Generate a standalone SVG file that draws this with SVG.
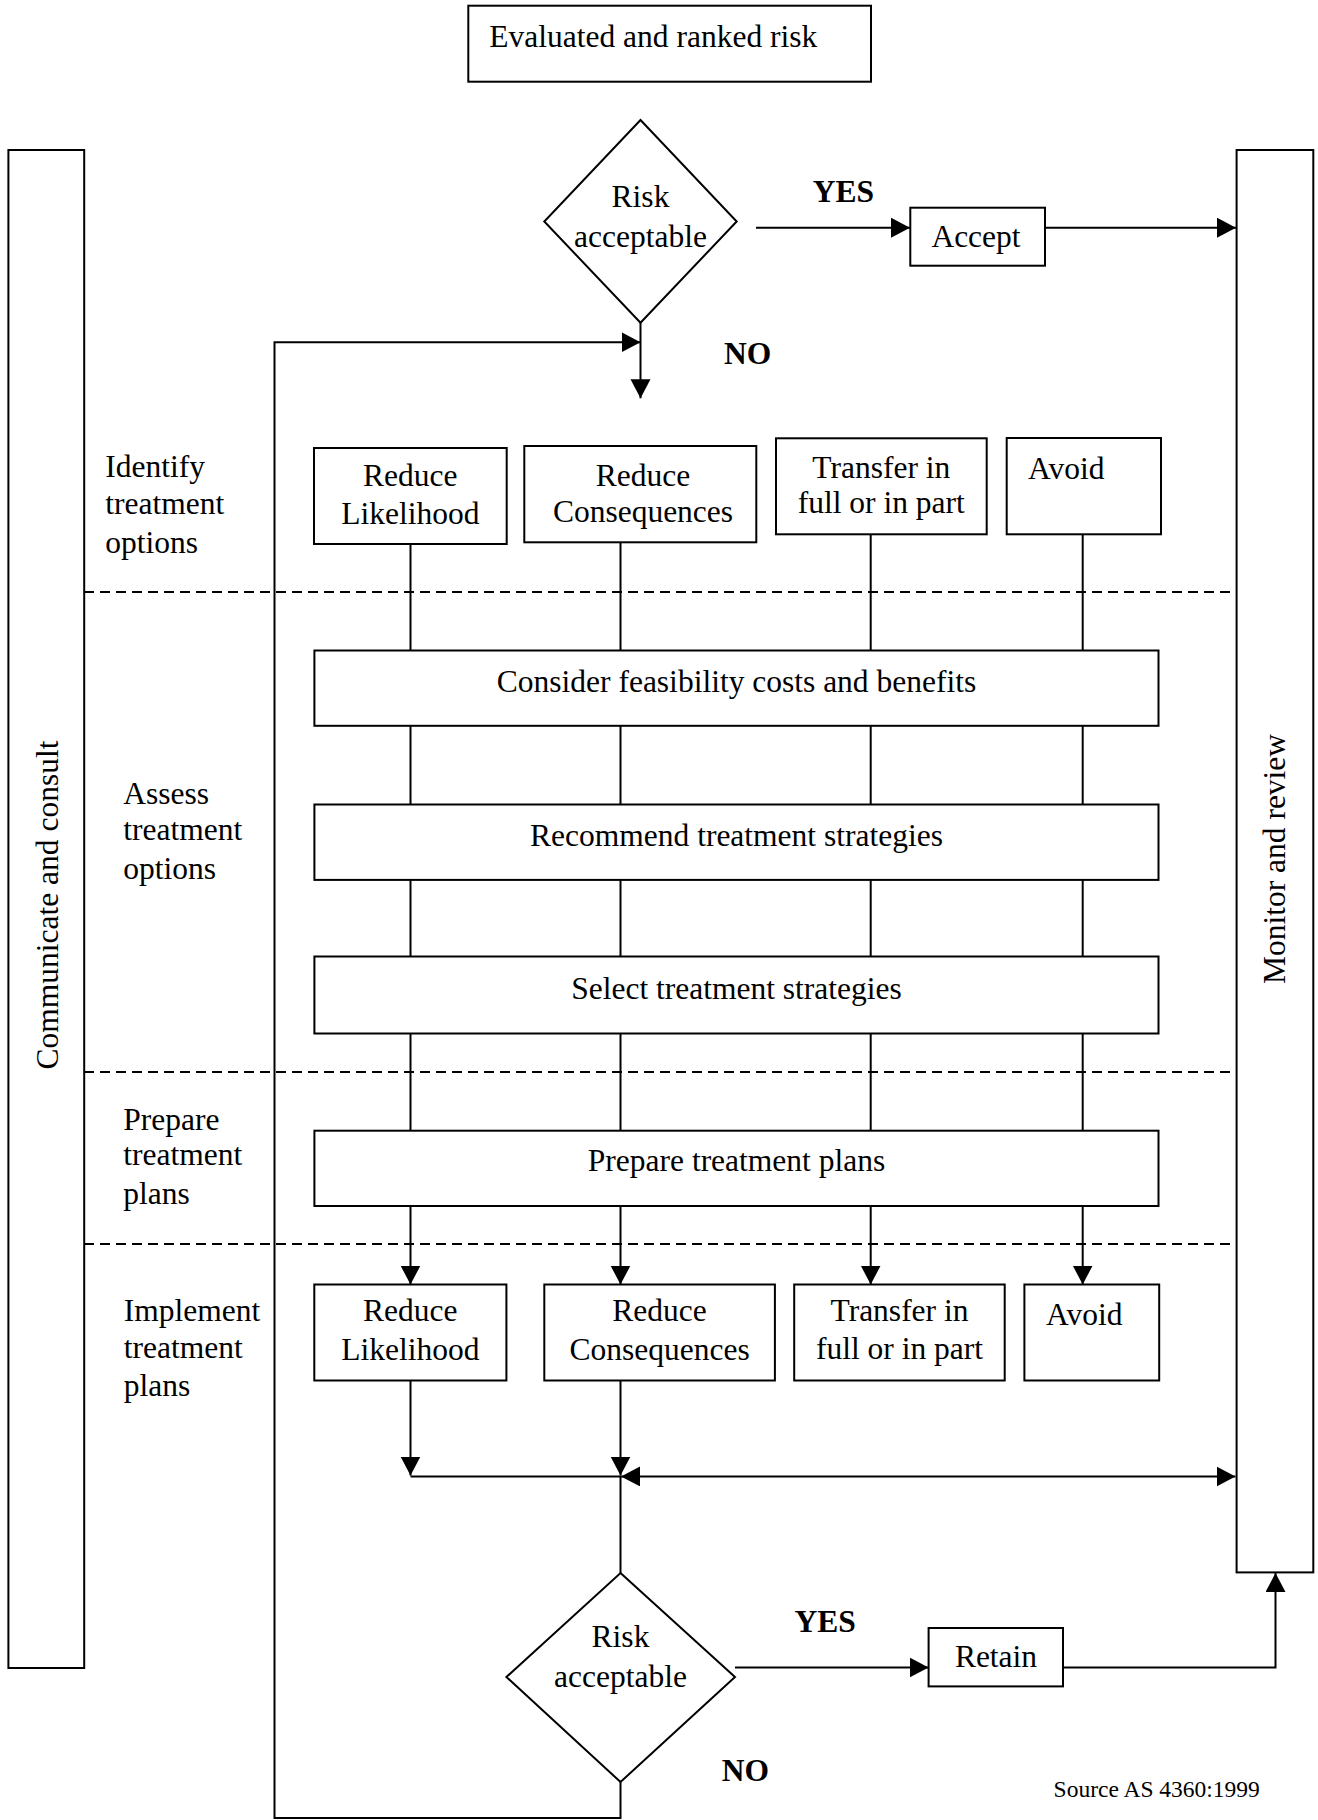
<svg xmlns="http://www.w3.org/2000/svg" width="1318" height="1820" viewBox="0 0 1318 1820">
<style>
.box{fill:#fff;stroke:#000;stroke-width:2}
.ln{fill:none;stroke:#000;stroke-width:2}
.dash{fill:none;stroke:#000;stroke-width:1.8;stroke-dasharray:10 6}
text{font-family:"Liberation Serif","Times New Roman",serif;font-size:31.5px;fill:#000}
.c{text-anchor:middle}
.b{font-weight:bold}
.src{font-size:23.5px}
</style>
<defs>
<marker id="ah" markerUnits="userSpaceOnUse" markerWidth="20" markerHeight="22" refX="19" refY="10" orient="auto-start-reverse" viewBox="0 0 20 22">
<path d="M0,0 L19,10 L0,20 z" fill="#000"/>
</marker>
</defs>
<rect width="1318" height="1820" fill="#fff"/>
<g id="dividers">
<line class="dash" x1="84" y1="592" x2="1236" y2="592"/>
<line class="dash" x1="84" y1="1072" x2="1236" y2="1072"/>
<line class="dash" x1="84" y1="1244" x2="1236" y2="1244"/>
</g>
<g id="connectors">
<line class="ln" x1="756" y1="227.7" x2="910" y2="227.7" marker-end="url(#ah)"/>
<line class="ln" x1="1045" y1="227.7" x2="1236" y2="227.7" marker-end="url(#ah)"/>
<line class="ln" x1="640.5" y1="322.7" x2="640.5" y2="398.3" marker-end="url(#ah)"/>
<path class="ln" d="M620.5,1782 V1818 H274.5 V342.3 H640.5" marker-end="url(#ah)"/>
<line class="ln" x1="410.5" y1="544" x2="410.5" y2="1284.5" marker-end="url(#ah)"/>
<line class="ln" x1="620.5" y1="542" x2="620.5" y2="1284.5" marker-end="url(#ah)"/>
<line class="ln" x1="870.7" y1="534" x2="870.7" y2="1284.5" marker-end="url(#ah)"/>
<line class="ln" x1="1082.7" y1="534" x2="1082.7" y2="1284.5" marker-end="url(#ah)"/>
<line class="ln" x1="410.5" y1="1380.5" x2="410.5" y2="1475.5" marker-end="url(#ah)"/>
<line class="ln" x1="620.5" y1="1380.5" x2="620.5" y2="1475.5" marker-end="url(#ah)"/>
<line class="ln" x1="410.5" y1="1476.4" x2="621" y2="1476.4"/>
<line class="ln" x1="621" y1="1476.4" x2="1235.5" y2="1476.4" marker-start="url(#ah)" marker-end="url(#ah)"/>
<line class="ln" x1="620.5" y1="1476.4" x2="620.5" y2="1573"/>
<line class="ln" x1="735" y1="1667.5" x2="928.6" y2="1667.5" marker-end="url(#ah)"/>
<path class="ln" d="M1063,1667.5 H1275.5 V1573" marker-end="url(#ah)"/>
</g>
<g id="n-evaluated">
<rect class="box" x="468.3" y="5.7" width="402.7" height="76"/>
<text x="489.3" y="46.7">Evaluated and ranked risk</text>
</g>
<g id="n-communicate">
<rect class="box" x="8.4" y="150" width="75.8" height="1518"/>
<text class="c" transform="translate(57.6,905) rotate(-90)">Communicate and consult</text>
</g>
<g id="n-monitor">
<rect class="box" x="1236.6" y="150" width="76.7" height="1422.4"/>
<text class="c" transform="translate(1285,859) rotate(-90)">Monitor and review</text>
</g>
<g id="n-decision1">
<polygon class="box" points="640.5,120 736.7,221.5 640.5,322.7 544.3,221.5"/>
<text class="c" x="640.5" y="206.7">Risk</text>
<text class="c" x="640.5" y="246.7">acceptable</text>
</g>
<g id="lbl-yes1"><text class="c b" x="843.4" y="201.7">YES</text></g>
<g id="lbl-no1"><text class="b" x="724" y="364">NO</text></g>
<g id="n-accept">
<rect class="box" x="910.3" y="207.7" width="134.7" height="58"/>
<text class="c" x="976" y="246.7">Accept</text>
</g>
<g id="lbl-identify">
<text x="105.3" y="476.5">Identify</text>
<text x="105.3" y="514">treatment</text>
<text x="105.3" y="552.5">options</text>
</g>
<g id="n-id-likelihood">
<rect class="box" x="314" y="448" width="192.7" height="96"/>
<text class="c" x="410.3" y="486">Reduce</text>
<text class="c" x="410.3" y="523.5">Likelihood</text>
</g>
<g id="n-id-consequences">
<rect class="box" x="524.3" y="446" width="232" height="96.3"/>
<text class="c" x="643" y="485.7">Reduce</text>
<text class="c" x="643" y="521.7">Consequences</text>
</g>
<g id="n-id-transfer">
<rect class="box" x="776" y="438.3" width="210.7" height="96"/>
<text class="c" x="881.3" y="478.3">Transfer in</text>
<text class="c" x="881.3" y="513.3">full or in part</text>
</g>
<g id="n-id-avoid">
<rect class="box" x="1006.7" y="438" width="154.3" height="96.3"/>
<text x="1028" y="479.3">Avoid</text>
</g>
<g id="lbl-assess">
<text x="123.3" y="804">Assess</text>
<text x="123.3" y="840">treatment</text>
<text x="123.3" y="878.5">options</text>
</g>
<g id="n-consider">
<rect class="box" x="314.4" y="650.5" width="844.1" height="75.3"/>
<text class="c" x="736.5" y="691.7">Consider feasibility costs and benefits</text>
</g>
<g id="n-recommend">
<rect class="box" x="314.4" y="804.5" width="844.1" height="75.4"/>
<text class="c" x="736.5" y="845.5">Recommend treatment strategies</text>
</g>
<g id="n-select">
<rect class="box" x="314.4" y="956.5" width="844.1" height="77"/>
<text class="c" x="736.5" y="998.6">Select treatment strategies</text>
</g>
<g id="lbl-prepare">
<text x="123.3" y="1129.5">Prepare</text>
<text x="123.3" y="1165.2">treatment</text>
<text x="123.3" y="1204">plans</text>
</g>
<g id="n-prepare">
<rect class="box" x="314.4" y="1130.7" width="844.1" height="75.3"/>
<text class="c" x="736.5" y="1170.7">Prepare treatment plans</text>
</g>
<g id="lbl-implement">
<text x="123.7" y="1321.4">Implement</text>
<text x="123.7" y="1357.5">treatment</text>
<text x="123.7" y="1395.5">plans</text>
</g>
<g id="n-im-likelihood">
<rect class="box" x="314.3" y="1284.5" width="192.1" height="96"/>
<text class="c" x="410.3" y="1321.4">Reduce</text>
<text class="c" x="410.3" y="1359.8">Likelihood</text>
</g>
<g id="n-im-consequences">
<rect class="box" x="544.3" y="1284.5" width="230.6" height="96"/>
<text class="c" x="659.6" y="1321.4">Reduce</text>
<text class="c" x="659.6" y="1359.8">Consequences</text>
</g>
<g id="n-im-transfer">
<rect class="box" x="794.2" y="1284.5" width="210.5" height="96"/>
<text class="c" x="899.5" y="1321.4">Transfer in</text>
<text class="c" x="899.5" y="1359">full or in part</text>
</g>
<g id="n-im-avoid">
<rect class="box" x="1024.4" y="1284.5" width="134.8" height="96"/>
<text x="1046" y="1324.8">Avoid</text>
</g>
<g id="n-decision2">
<polygon class="box" points="620.5,1573 735,1677 620.5,1782 506.4,1677"/>
<text class="c" x="620.5" y="1646.9">Risk</text>
<text class="c" x="620.5" y="1687">acceptable</text>
</g>
<g id="lbl-yes2"><text class="c b" x="825.2" y="1631.8">YES</text></g>
<g id="lbl-no2"><text class="b" x="721.7" y="1781">NO</text></g>
<g id="n-retain">
<rect class="box" x="928.6" y="1628" width="134.4" height="58.4"/>
<text class="c" x="996" y="1667.2">Retain</text>
</g>
<g id="lbl-source"><text class="src" x="1053.6" y="1797.3">Source AS 4360:1999</text></g>
</svg>
